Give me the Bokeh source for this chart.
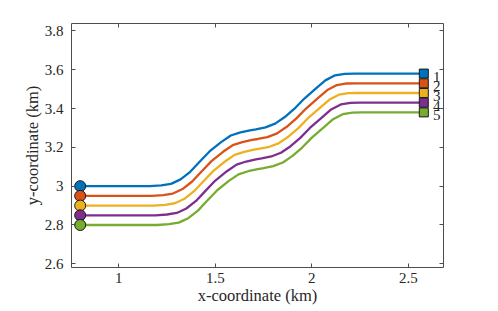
from bokeh.plotting import figure
from bokeh.models import Range1d, FixedTicker, LinearAxis, CustomJSTickFormatter
from bokeh.core.properties import value
from bokeh.embed import file_html
from bokeh.resources import INLINE

# Path samples (km); one x list and one y list per path
x_path1 = [0.8, 1.16, 1.22, 1.27, 1.29, 1.32, 1.37, 1.42, 1.47, 1.53, 1.58, 1.63, 1.68,
           1.71, 1.76, 1.81, 1.86, 1.91, 1.96, 2.02, 2.07, 2.12, 2.17, 2.22, 2.58]
y_path1 = [3.0, 3.0, 3.004, 3.012, 3.021, 3.035, 3.074, 3.127, 3.179, 3.227, 3.261, 3.277, 3.288,
           3.293, 3.303, 3.322, 3.356, 3.399, 3.45, 3.502, 3.545, 3.571, 3.579, 3.58, 3.58]
x_path2 = [0.8, 1.17, 1.23, 1.28, 1.30, 1.33, 1.38, 1.43, 1.48, 1.54, 1.59, 1.64, 1.69,
           1.72, 1.77, 1.82, 1.87, 1.92, 1.97, 2.03, 2.08, 2.13, 2.18, 2.23, 2.58]
y_path2 = [2.95, 2.95, 2.954, 2.962, 2.971, 2.985, 3.024, 3.077, 3.129, 3.177, 3.211, 3.227, 3.238,
           3.243, 3.253, 3.272, 3.306, 3.349, 3.40, 3.452, 3.495, 3.521, 3.529, 3.53, 3.53]
x_path3 = [0.8, 1.18, 1.24, 1.29, 1.31, 1.34, 1.39, 1.44, 1.49, 1.55, 1.60, 1.65, 1.70,
           1.73, 1.78, 1.83, 1.88, 1.93, 1.98, 2.04, 2.09, 2.14, 2.19, 2.24, 2.58]
y_path3 = [2.9, 2.9, 2.904, 2.912, 2.921, 2.935, 2.974, 3.027, 3.079, 3.127, 3.161, 3.177, 3.188,
           3.193, 3.203, 3.222, 3.256, 3.299, 3.35, 3.402, 3.445, 3.471, 3.479, 3.48, 3.48]
x_path4 = [0.8, 1.19, 1.25, 1.30, 1.32, 1.35, 1.40, 1.45, 1.50, 1.56, 1.61, 1.66, 1.71,
           1.74, 1.79, 1.84, 1.89, 1.94, 1.99, 2.05, 2.10, 2.15, 2.20, 2.25, 2.58]
y_path4 = [2.85, 2.85, 2.854, 2.862, 2.871, 2.885, 2.924, 2.977, 3.029, 3.077, 3.111, 3.127, 3.138,
           3.143, 3.153, 3.172, 3.206, 3.249, 3.30, 3.352, 3.395, 3.421, 3.429, 3.43, 3.43]
x_path5 = [0.8, 1.20, 1.26, 1.31, 1.33, 1.36, 1.41, 1.46, 1.51, 1.57, 1.62, 1.67, 1.72,
           1.75, 1.80, 1.85, 1.90, 1.95, 2.00, 2.06, 2.11, 2.16, 2.21, 2.26, 2.58]
y_path5 = [2.8, 2.8, 2.804, 2.812, 2.821, 2.835, 2.874, 2.927, 2.979, 3.027, 3.061, 3.077, 3.088,
           3.093, 3.103, 3.122, 3.156, 3.199, 3.25, 3.302, 3.345, 3.371, 3.379, 3.38, 3.38]
labels = ["1", "2", "3", "4", "5"]
colors = ["#0072BD", "#D95319", "#EDB120", "#7E2F8E", "#77AC30"]
label_x = 2.627

x_ticks = [1, 1.5, 2, 2.5]
y_ticks = [2.6, 2.8, 3, 3.2, 3.4, 3.6, 3.8]

FONT = "'Liberation Serif', 'Times New Roman', serif"
TXT = "#262626"

p = figure(width=498, height=311, output_backend="svg", toolbar_location=None,
           x_range=Range1d(0.755, 2.682), y_range=Range1d(2.581, 3.838),
           min_border_left=71, min_border_right=55, min_border_top=23, min_border_bottom=44)
p.background_fill_color = "white"
p.border_fill_color = "white"
p.outline_line_color = "#4d4d4d"
p.outline_line_width = 1
p.xgrid.visible = False
p.ygrid.visible = False

fmt = CustomJSTickFormatter(code="return tick.toString();")
blank = CustomJSTickFormatter(code="return '';")

def style_axis(ax, ticks, show_labels):
    ax.ticker = FixedTicker(ticks=ticks)
    ax.axis_line_color = None
    ax.major_tick_in = 4
    ax.major_tick_out = 0
    ax.major_tick_line_color = "#4d4d4d"
    ax.minor_tick_line_color = None
    ax.major_label_text_font = FONT
    ax.major_label_text_color = TXT
    ax.axis_label_text_font = FONT
    ax.axis_label_text_color = TXT
    ax.axis_label_text_font_style = "normal"
    ax.major_label_text_font_size = "15px"
    ax.axis_label_text_font_size = "16.5px"
    if show_labels:
        ax.formatter = fmt
    else:
        ax.formatter = blank
        ax.major_label_standoff = 0

style_axis(p.xaxis[0], x_ticks, True)
style_axis(p.yaxis[0], y_ticks, True)
p.xaxis[0].axis_label = "x-coordinate (km)"
p.yaxis[0].axis_label = "y-coordinate (km)"
p.xaxis[0].major_label_standoff = 5
p.xaxis[0].axis_label_standoff = 0
p.yaxis[0].major_label_standoff = 8
p.yaxis[0].axis_label_standoff = 0

top_ax = LinearAxis()
right_ax = LinearAxis()
style_axis(top_ax, x_ticks, False)
style_axis(right_ax, y_ticks, False)
p.add_layout(top_ax, "above")
p.add_layout(right_ax, "right")

xs_all = [x_path1, x_path2, x_path3, x_path4, x_path5]
ys_all = [y_path1, y_path2, y_path3, y_path4, y_path5]
for xs, ys, c in zip(xs_all, ys_all, colors):
    p.line(xs, ys, line_color=c, line_width=2.3, line_join="round")
for xs, ys, c, lab in zip(xs_all, ys_all, colors, labels):
    p.scatter([xs[0]], [ys[0]], marker="circle", size=11, fill_color=c,
              line_color="#1a1a1a", line_width=1)
    p.scatter([xs[-1]], [ys[-1]], marker="square", size=9, fill_color=c,
              line_color="#1a1a1a", line_width=1)
    p.text([label_x], [ys[-1]], text=[lab], text_font=value(FONT), text_font_size="15px",
           text_color=TXT, text_baseline="middle", text_align="left", y_offset=3)

open("out.html", "w").write(file_html(p, INLINE))
